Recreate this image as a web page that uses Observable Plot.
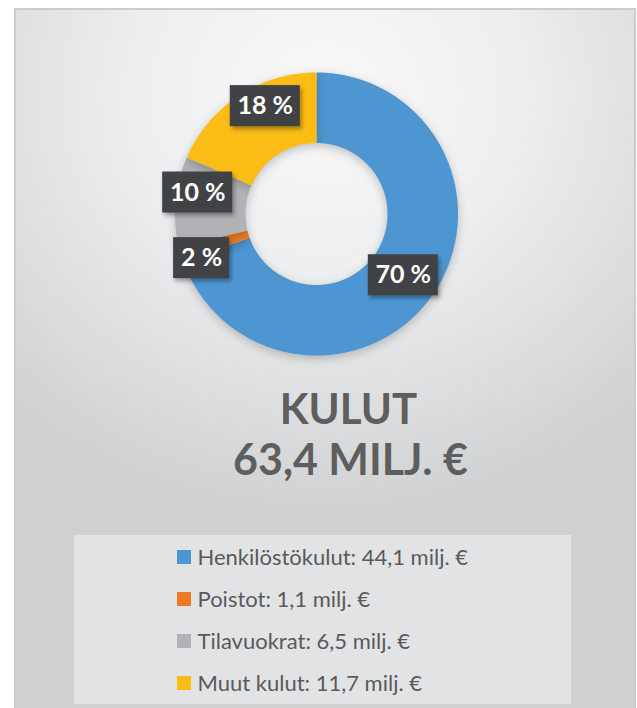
<!DOCTYPE html>
<html>
<head>
<meta charset="utf-8">
<script src="https://cdn.jsdelivr.net/npm/d3@7"></script>
<script src="https://cdn.jsdelivr.net/npm/@observablehq/plot@0.6"></script>
<style>
  html, body { margin: 0; padding: 0; background: #ffffff; }
  #wrap { position: relative; width: 637px; height: 708px; overflow: hidden; }
  #frame {
    position: absolute; left: 14px; top: 8px; width: 618px; height: 710px;
    border: 2px solid #cacbcd;
    background: radial-gradient(ellipse 75% 60% at 50% 12%, #f8f8f9 0%, #eeeff0 40%, #dcdddf 75%, #cfd0d2 100%);
  }
  #chart { position: absolute; left: 0; top: 0; }
  .slice path { filter: drop-shadow(0px 3px 5px rgba(0,0,0,0.22)); }
  .lblbox rect { filter: drop-shadow(2px 3px 2px rgba(0,0,0,0.35)); }
</style>
</head>
<body>
<div id="wrap"><div id="frame"></div><div id="chart"></div></div>
<script>
// ---- data ----
const categories = ["Henkilöstökulut", "Poistot", "Tilavuokrat", "Muut kulut"];
const values = [44.1, 1.1, 6.5, 11.7];
const colors = ["#4e96d1", "#ed7a22", "#b1b2b5", "#fbbc15"];
const titleLine1 = "KULUT";
const titleLine2 = "63,4 MILJ. €";
const unit = "milj. €";

// ---- layout ----
const W = 637, H = 708;
const cx = 316, cy = 213.5, R = 141.5, r0 = 71;
const labelNudge = [[0, 0], [-13, 14], [-13, -12], [7, -19]];

const total = d3.sum(values);
const arcs = d3.pie().sort(null).value(d => d)(values);

// slice polygons built from pie angles
const slicePts = [];
arcs.forEach((a, i) => {
  const n = Math.max(4, Math.ceil((a.endAngle - a.startAngle) / 0.01));
  for (let k = 0; k <= n; k++) {
    const t = a.startAngle + (a.endAngle - a.startAngle) * k / n;
    slicePts.push({cat: categories[i], x: cx + R * Math.sin(t), y: cy - R * Math.cos(t)});
  }
  for (let k = n; k >= 0; k--) {
    const t = a.startAngle + (a.endAngle - a.startAngle) * k / n;
    slicePts.push({cat: categories[i], x: cx + r0 * Math.sin(t), y: cy - r0 * Math.cos(t)});
  }
});

const rl = (R + r0) / 2;
const labels = arcs.map((a, i) => {
  const m = (a.startAngle + a.endAngle) / 2;
  const txt = Math.round(values[i] / total * 100) + " %";
  const x = cx + rl * Math.sin(m) + labelNudge[i][0];
  const y = cy - rl * Math.cos(m) + labelNudge[i][1];
  const w = 14 * txt.length + 14;
  return {txt, x, y, x1: x - w / 2, x2: x + w / 2, y1: y - 20.5, y2: y + 20.5};
});

const legend = categories.map((c, i) => ({
  cat: c,
  text: `${c}: ${values[i].toFixed(1).replace(".", ",")} ${unit}`,
  y: 557 + i * 42
}));

const chart = Plot.plot({
  width: W, height: H,
  margin: 0,
  style: {background: "transparent", fontFamily: "Lato, 'Open Sans', sans-serif"},
  x: {domain: [0, W], range: [0, W], axis: null},
  y: {domain: [0, H], range: [0, H], axis: null},
  color: {domain: categories, range: colors},
  marks: [
    Plot.line(slicePts, {x: "x", y: "y", z: "cat", fill: "cat", stroke: "none", className: "slice"}),
    Plot.rect(labels, {x1: "x1", x2: "x2", y1: "y1", y2: "y2", fill: "#414245", className: "lblbox"}),
    Plot.text(labels, {x: "x", y: "y", text: "txt", fill: "white", fontSize: 25, fontWeight: "bold", lineAnchor: "middle"}),
    Plot.text([titleLine1], {x: 348, y: 410, text: d => d, fill: "#5e5e5f", fontSize: 42, fontWeight: "bold", lineAnchor: "middle"}),
    Plot.text([titleLine2], {x: 350, y: 461, text: d => d, fill: "#5e5e5f", fontSize: 43, fontWeight: "bold", lineAnchor: "middle"}),
    Plot.rect([0], {x1: 74, x2: 571, y1: 535, y2: 704, fill: "#e2e3e5"}),
    Plot.rect(legend, {x1: 177, x2: 191, y1: d => d.y - 7, y2: d => d.y + 7, fill: "cat"}),
    Plot.text(legend, {x: 197, y: "y", text: "text", textAnchor: "start", fill: "#5a5a5b", fontSize: 22, lineAnchor: "middle"})
  ]
});
document.getElementById("chart").appendChild(chart);
</script>
</body>
</html>
